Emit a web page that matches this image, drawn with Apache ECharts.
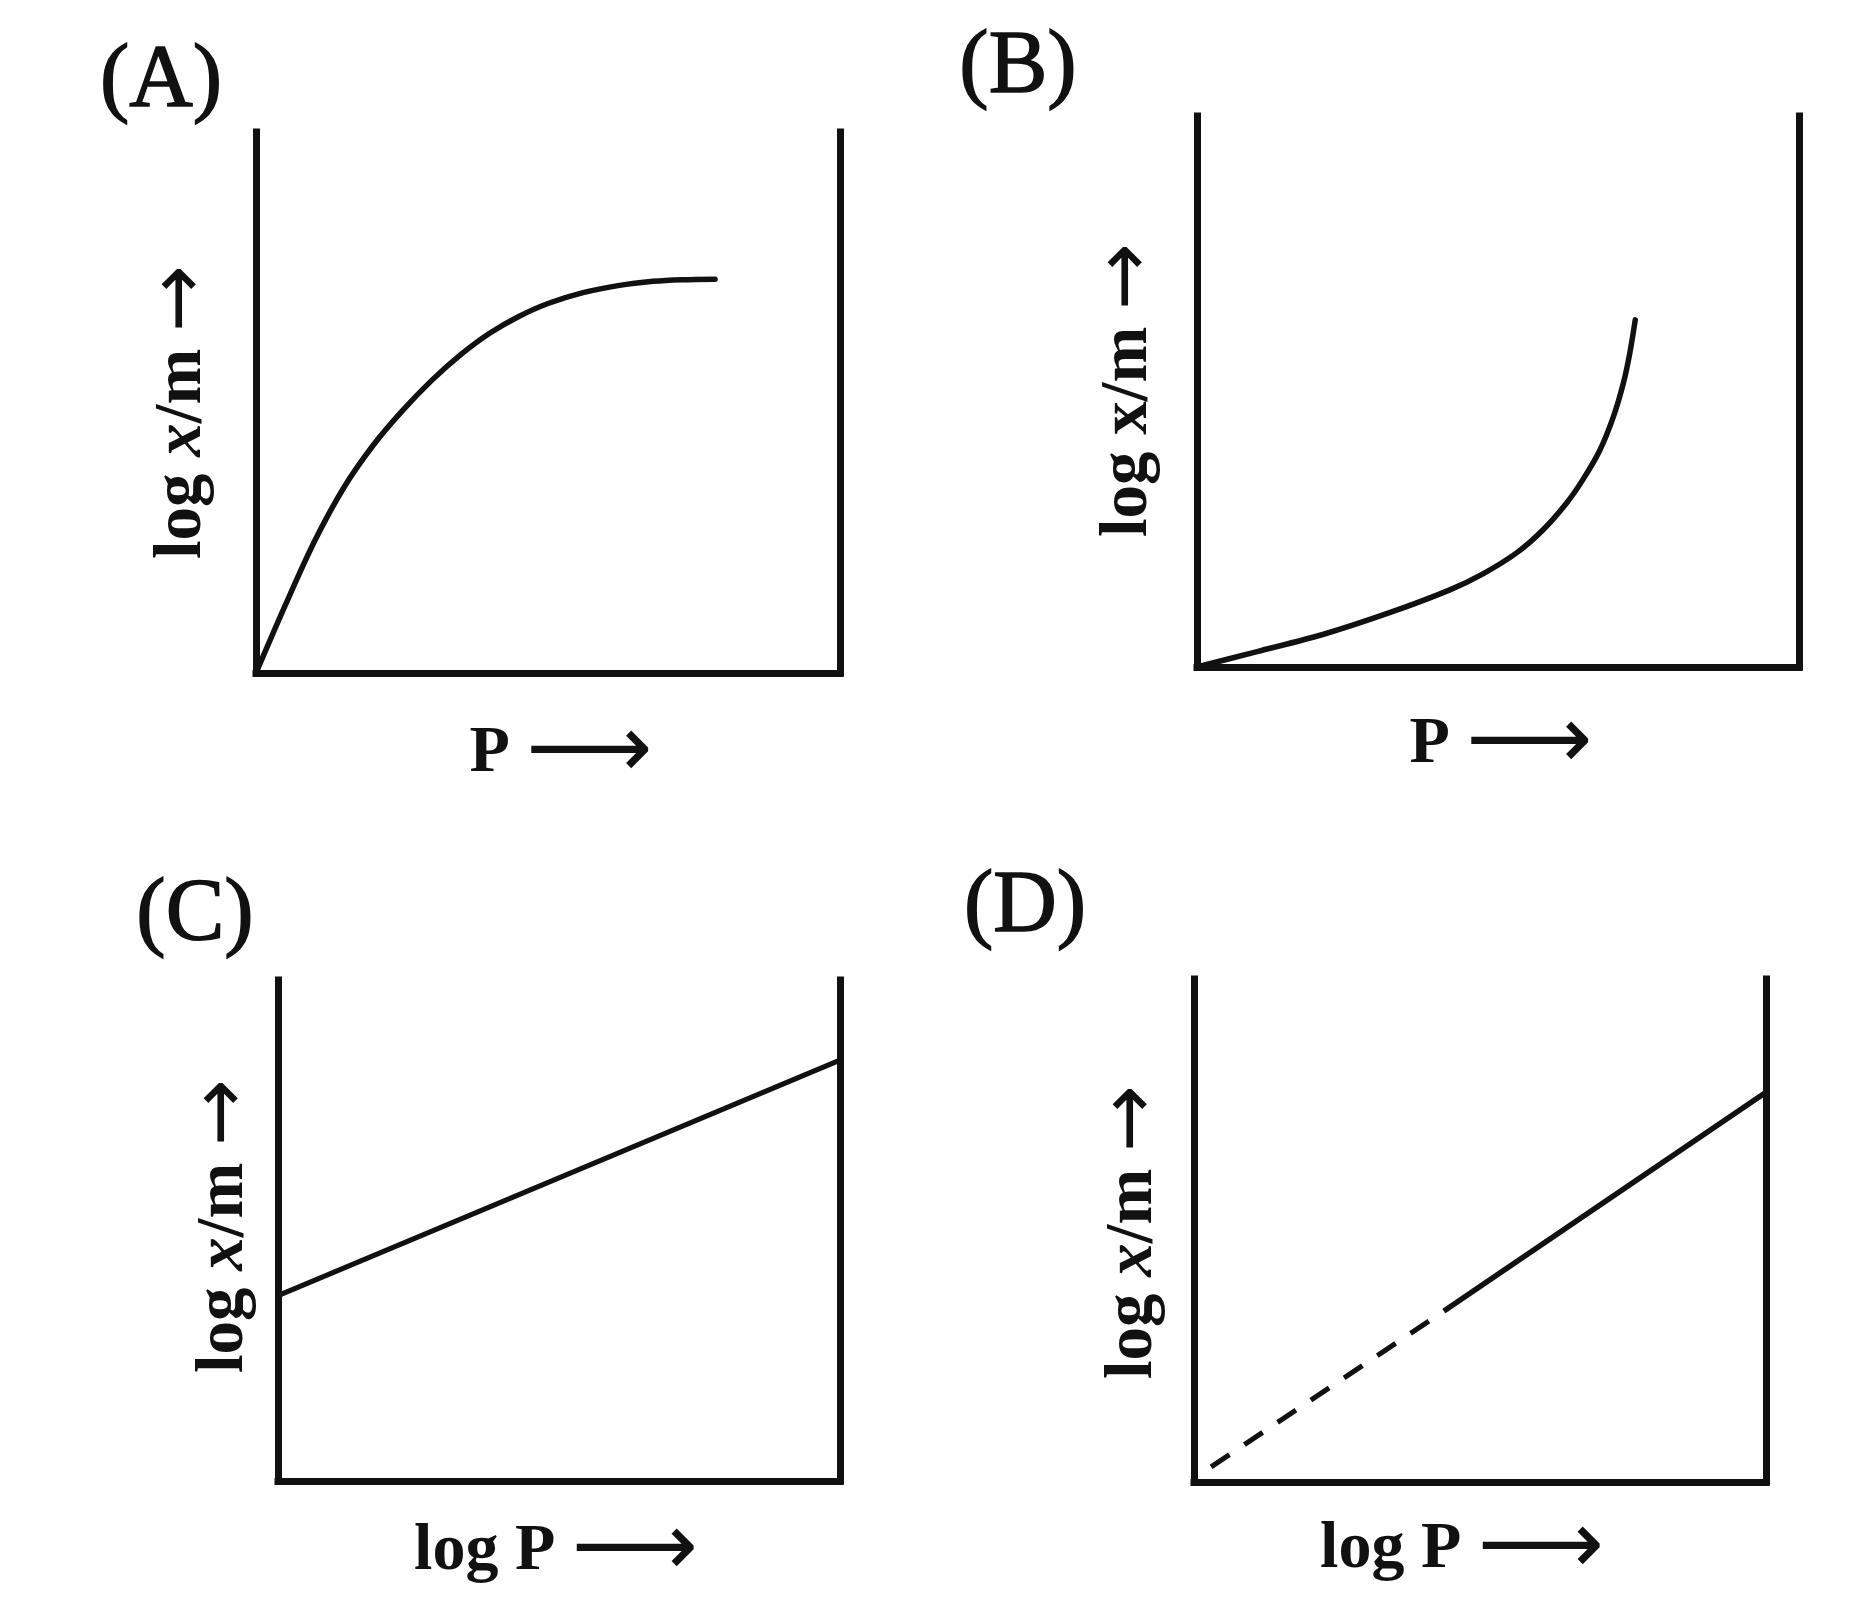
<!DOCTYPE html>
<html>
<head>
<meta charset="utf-8">
<script src="https://cdn.jsdelivr.net/npm/echarts@6/dist/echarts.min.js"></script>
<style>
html,body{margin:0;padding:0;background:#fff;}
#main{width:1853px;height:1617px;}
</style>
</head>
<body>
<div id="main"></div>
<script>
// Panel labels and axis titles
const panelLabels = ['(A)', '(B)', '(C)', '(D)'];
const xTitles = ['P', 'P', 'log P', 'log P'];
const yTitleItalicX = [true, false, true, true];

// Panel A: concave curve (normalized 0-100 units)
const curveA = [[0,0],[5,12.5],[10,24.3],[15,34.2],[20,42.0],[25,48.4],[30,54.0],[35,58.8],[40,62.8],[45,65.9],[50,68.3],[56,70.3],[62,71.6],[68,72.4],[73,72.7],[78.6,72.8]];
// Panel B: convex curve
const curveB = [[0,0],[10,2.8],[20.9,5.9],[32.1,9.9],[42,14.0],[47.5,16.9],[53.2,20.8],[57.5,24.9],[61.5,29.9],[64.1,34.0],[66.9,39.3],[69.1,45.2],[70.8,51.4],[71.9,57.0],[72.8,63.0]];
// Panel C: straight line
const lineC = [[0,37],[100,84]];
// Panel D: dashed extrapolation + solid line
const lineDdashed = [[3,3],[43.7,34]];
const lineDsolid = [[43.7,34],[100,77.5]];

const grids = [
  {left:256, top:132, width:584, height:541},
  {left:1197, top:116, width:602, height:551},
  {left:278, top:980, width:562, height:501},
  {left:1194, top:979, width:572, height:503}
];

const AX = {color:'#111', width:7, cap:'square'};
const xAxes = [], yAxes = [];
grids.forEach((g,i)=>{
  xAxes.push({gridIndex:i, type:'value', min:0, max:100, axisLine:{show:true, onZero:false, lineStyle:AX}, axisTick:{show:false}, axisLabel:{show:false}, splitLine:{show:false}});
  yAxes.push({gridIndex:i, type:'value', min:0, max:100, position:'left', axisLine:{show:true, onZero:false, lineStyle:AX}, axisTick:{show:false}, axisLabel:{show:false}, splitLine:{show:false}});
  yAxes.push({gridIndex:i, type:'value', min:0, max:100, position:'right', axisLine:{show:true, onZero:false, lineStyle:AX}, axisTick:{show:false}, axisLabel:{show:false}, splitLine:{show:false}});
});

function ser(i, data, extra){
  return Object.assign({type:'line', xAxisIndex:i, yAxisIndex:i*2, data:data, symbol:'none', silent:true,
    lineStyle:{color:'#111', width:5.5, cap:'round', join:'round'}, animation:false}, extra||{});
}

const SERIF = '"Liberation Serif","Times New Roman",serif';
const panelPos = [[161,82],[1018,68],[195,916],[1025,908]];
const yTitlePos = [[183,412],[1129,390],[225,1226],[1134,1232]];
const xTitlePos = [[561,754],[1501,745],[556,1552],[1462,1550]];

const graphics = [];
panelLabels.forEach((t,i)=>{
  graphics.push({type:'text', x:panelPos[i][0], y:panelPos[i][1], silent:true,
    style:{text:t, fill:'#111', font:'88px '+SERIF, align:'center', verticalAlign:'middle', stroke:'#111', lineWidth:1.5}});
  graphics.push({type:'text', x:yTitlePos[i][0], y:yTitlePos[i][1], rotation:Math.PI/2, silent:true,
    style:{text:'{n|log }{x|x}{n|/m }{a|\u2192}', fill:'#111', align:'center', verticalAlign:'middle',
      rich:{
        n:{font:'bold 67px '+SERIF, fill:'#111'},
        x:{font:(yTitleItalicX[i]?'italic ':'')+'bold 67px '+SERIF, fill:'#111'},
        a:{font:'80px "DejaVu Sans"', fill:'#111'}
      }}});
  graphics.push({type:'text', x:xTitlePos[i][0], y:xTitlePos[i][1], silent:true,
    style:{text:'{n|'+xTitles[i]+' }{a|\u27F6}', fill:'#111', align:'center', verticalAlign:'middle',
      rich:{
        n:{font:'bold 66px '+SERIF, fill:'#111'},
        a:{font:'88px "DejaVu Sans"', fill:'#111'}
      }}});
});

const chart = echarts.init(document.getElementById('main'), null, {renderer:'canvas'});
chart.setOption({
  backgroundColor:'#ffffff',
  animation:false,
  grid: grids,
  xAxis: xAxes,
  yAxis: yAxes,
  series: [
    ser(0, curveA, {smooth:0.3}),
    ser(1, curveB, {smooth:0.3}),
    ser(2, lineC, {lineStyle:{color:'#111', width:5}}),
    ser(3, lineDdashed, {lineStyle:{color:'#111', width:5, type:[22,18]}}),
    ser(3, lineDsolid, {lineStyle:{color:'#111', width:5.5}})
  ],
  graphic: graphics
});
</script>
</body>
</html>
